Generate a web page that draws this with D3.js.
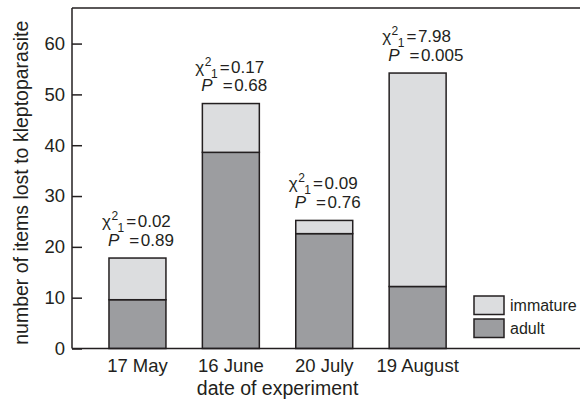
<!DOCTYPE html>
<html>
<head>
<meta charset="utf-8">
<script src="https://cdn.jsdelivr.net/npm/d3@7"></script>
<style>
  body { margin: 0; background: #fff; }
  svg { display: block; font-family: "Liberation Sans", Arial, sans-serif; }
  text { fill: #231f20; }
</style>
</head>
<body>
<div id="chart"></div>
<script>
// ========================================
// DATA
// ========================================

const dates = ['17 May', '16 June', '20 July', '19 August'];
const adult = [9.6, 38.6, 22.6, 12.2];
const immature = [8.2, 9.6, 2.6, 42.0];
const chiValues = ['0.02', '0.17', '0.09', '7.98'];
const pValues = ['0.89', '0.68', '0.76', '0.005'];
const yTicks = [0, 10, 20, 30, 40, 50, 60];
const seriesNames = ['immature', 'adult'];

// ========================================
// LAYOUT
// ========================================

const width = 580;
const height = 401;
const margin = { left: 72, right: 0, top: 8, bottom: 52.5 };
const ink = '#231f20';
const colors = { immature: '#dcdddf', adult: '#9c9da0' };

const svg = d3.select('#chart').append('svg')
    .attr('width', width)
    .attr('height', height);

const y = d3.scaleLinear()
    .domain([0, 67])
    .range([height - margin.bottom, margin.top]);

const x = d3.scaleBand()
    .domain(dates)
    .range([90.3, 464.8])
    .paddingInner(0.39)
    .paddingOuter(0.2);

const rows = dates.map((d, i) => ({
    date: d,
    adult: adult[i],
    immature: immature[i],
    chi: chiValues[i],
    p: pValues[i]
}));

const stack = d3.stack().keys(['adult', 'immature'])(rows);

// ========================================
// BARS
// ========================================

const layers = svg.selectAll('.layer')
    .data(stack)
    .enter().append('g')
    .attr('class', 'layer')
    .attr('fill', d => colors[d.key]);

layers.selectAll('rect')
    .data(d => d)
    .enter().append('rect')
    .attr('x', d => x(d.data.date))
    .attr('y', d => y(d[1]))
    .attr('width', x.bandwidth())
    .attr('height', d => y(d[0]) - y(d[1]))
    .attr('stroke', ink)
    .attr('stroke-width', 1.5);

// ========================================
// AXES / FRAME
// ========================================

const yAxis = d3.axisLeft(y)
    .tickValues(yTicks)
    .tickSize(-10)
    .tickPadding(7);

const yG = svg.append('g')
    .attr('transform', `translate(${margin.left},0)`)
    .call(yAxis);

yG.select('.domain').remove();
yG.selectAll('.tick line').attr('stroke', ink).attr('stroke-width', 1.5);
yG.selectAll('.tick text')
    .attr('font-size', 18.5)
    .attr('font-family', '"Liberation Sans", Arial, sans-serif')
    .attr('fill', ink);

// left axis line, top and bottom rules
svg.append('line')
    .attr('x1', margin.left).attr('x2', margin.left)
    .attr('y1', y.range()[1]).attr('y2', y.range()[0])
    .attr('stroke', ink).attr('stroke-width', 1.5);

svg.append('line')
    .attr('x1', margin.left).attr('x2', width)
    .attr('y1', y.range()[1]).attr('y2', y.range()[1])
    .attr('stroke', ink).attr('stroke-width', 1.5);

svg.append('line')
    .attr('x1', margin.left).attr('x2', width)
    .attr('y1', y(0)).attr('y2', y(0))
    .attr('stroke', ink).attr('stroke-width', 1.5);

// x category labels
svg.append('g')
    .selectAll('text')
    .data(dates)
    .enter().append('text')
    .attr('x', d => x(d) + x.bandwidth() / 2)
    .attr('y', y(0) + 23.5)
    .attr('text-anchor', 'middle')
    .attr('font-size', 18.5)
    .text(d => d);

// axis titles
svg.append('text')
    .attr('x', (x(dates[0]) + x(dates[3]) + x.bandwidth()) / 2)
    .attr('y', 395)
    .attr('text-anchor', 'middle')
    .attr('font-size', 19.5)
    .text('date of experiment');

svg.append('text')
    .attr('transform', `translate(28,${(y(0) + 17) / 2}) rotate(-90)`)
    .attr('text-anchor', 'middle')
    .attr('font-size', 19.5)
    .text('number of items lost to kleptoparasite');

// ========================================
// STATISTICS ANNOTATIONS
// ========================================

const notes = svg.append('g')
    .selectAll('g')
    .data(rows)
    .enter().append('g')
    .attr('transform', d => `translate(${x(d.date) + x.bandwidth() / 2},${y(d.adult + d.immature)})`)
    .attr('font-size', 17);

const chiLine = notes.append('text')
    .attr('x', -35.5)
    .attr('y', -31);

chiLine.append('tspan').text('\u03c7');
chiLine.append('tspan').attr('font-size', 12).attr('dx', 0.5).attr('dy', -7).text('2');
chiLine.append('tspan').attr('font-size', 12).attr('dx', -0.5).attr('dy', 12).text('1');
chiLine.append('tspan').attr('dx', 2).attr('dy', -5).text('=');
chiLine.append('tspan').attr('dx', 1.5).text(d => d.chi);

const pLine = notes.append('text')
    .attr('x', -29.5)
    .attr('y', -12.5);

pLine.append('tspan').attr('font-style', 'italic').text('P');
pLine.append('tspan').attr('dx', 10).text('=');
pLine.append('tspan').attr('dx', 1.5).text(d => d.p);

// ========================================
// LEGEND
// ========================================

const legend = svg.append('g')
    .attr('transform', 'translate(474,296)');

const items = legend.selectAll('g')
    .data(seriesNames)
    .enter().append('g')
    .attr('transform', (d, i) => `translate(0,${i * 23})`);

items.append('rect')
    .attr('width', 30)
    .attr('height', 18.5)
    .attr('fill', d => colors[d])
    .attr('stroke', ink)
    .attr('stroke-width', 1.5);

items.append('text')
    .attr('x', 36)
    .attr('y', 14.5)
    .attr('font-size', 16)
    .text(d => d);
</script>
</body>
</html>
